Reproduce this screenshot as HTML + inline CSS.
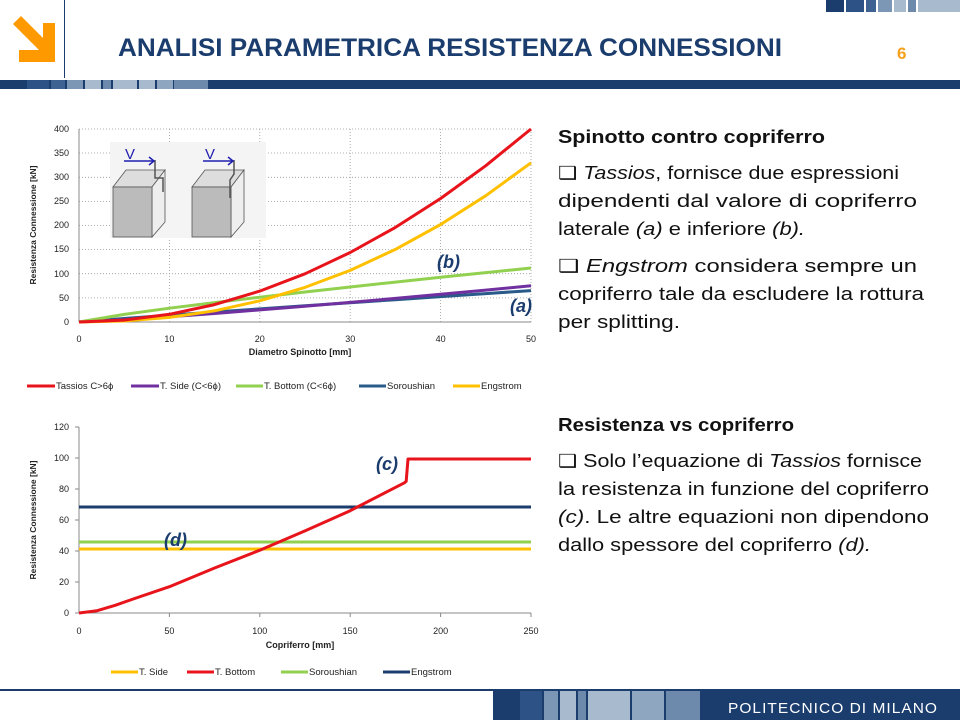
<!DOCTYPE html>
<html><head><meta charset="utf-8"><style>html,body{margin:0;padding:0;background:#fff}svg{display:block}</style></head><body>
<svg width="960" height="720" viewBox="0 0 960 720" xmlns="http://www.w3.org/2000/svg" font-family="Liberation Sans, sans-serif">
<!-- header -->
<rect x="826" y="0" width="18" height="12" fill="#1b3d6e"/><rect x="846" y="0" width="18" height="12" fill="#2d5286"/><rect x="866" y="0" width="10" height="12" fill="#3e6393"/><rect x="878" y="0" width="14" height="12" fill="#7c97b5"/><rect x="894" y="0" width="12" height="12" fill="#a8bacd"/><rect x="908" y="0" width="8" height="12" fill="#6d8aad"/><rect x="918" y="0" width="42" height="12" fill="#a8bacd"/>
<line x1="64.5" y1="0" x2="64.5" y2="78" stroke="#1b3d6e" stroke-width="1"/>
<polygon points="13,24 21,16 43,38 43,23 55,23 55,62 19,62 19,50 39,50" fill="#ff9900"/>
<text x="118" y="56" font-size="25" font-weight="bold" fill="#1b3d6e" textLength="664" lengthAdjust="spacingAndGlyphs">ANALISI PARAMETRICA RESISTENZA CONNESSIONI</text>
<text x="897" y="59" font-size="17" font-weight="bold" fill="#f5a11c">6</text>
<rect x="0" y="80" width="960" height="9" fill="#1b3d6e"/>
<rect x="27" y="80" width="22" height="9" fill="#2d5286"/><rect x="51" y="80" width="14" height="9" fill="#3e6393"/><rect x="67" y="80" width="16" height="9" fill="#7c97b5"/><rect x="85" y="80" width="16" height="9" fill="#a8bacd"/><rect x="103" y="80" width="8" height="9" fill="#6d8aad"/><rect x="113" y="80" width="24" height="9" fill="#a8bacd"/><rect x="139" y="80" width="16" height="9" fill="#a8bacd"/><rect x="157" y="80" width="16" height="9" fill="#8fa6c0"/><rect x="174" y="80" width="34" height="9" fill="#6d8aad"/>
<!-- footer -->
<line x1="0" y1="690" x2="960" y2="690" stroke="#1b3d6e" stroke-width="2"/>
<rect x="493" y="691" width="467" height="29" fill="#1b3d6e"/>
<rect x="520" y="691" width="22" height="29" fill="#2d5286"/><rect x="544" y="691" width="14" height="29" fill="#7c97b5"/><rect x="560" y="691" width="16" height="29" fill="#a8bacd"/><rect x="578" y="691" width="8" height="29" fill="#6d8aad"/><rect x="588" y="691" width="42" height="29" fill="#a8bacd"/><rect x="632" y="691" width="32" height="29" fill="#8fa6c0"/><rect x="666" y="691" width="34" height="29" fill="#6d8aad"/>
<text x="728" y="713" font-size="15" fill="#fff" textLength="210" lengthAdjust="spacingAndGlyphs" letter-spacing="1">POLITECNICO DI MILANO</text>

<!-- chart 1 -->
<g stroke="#999" stroke-width="0.8" stroke-dasharray="1,2">
<line x1="79" y1="129" x2="531" y2="129"/><line x1="79" y1="153" x2="531" y2="153"/><line x1="79" y1="177.3" x2="531" y2="177.3"/><line x1="79" y1="201.4" x2="531" y2="201.4"/><line x1="79" y1="225.5" x2="531" y2="225.5"/><line x1="79" y1="249.6" x2="531" y2="249.6"/><line x1="79" y1="273.7" x2="531" y2="273.7"/><line x1="79" y1="297.9" x2="531" y2="297.9"/>
<line x1="169.4" y1="129" x2="169.4" y2="322"/><line x1="259.8" y1="129" x2="259.8" y2="322"/><line x1="350.2" y1="129" x2="350.2" y2="322"/><line x1="440.6" y1="129" x2="440.6" y2="322"/><line x1="531" y1="129" x2="531" y2="322"/>
</g>
<line x1="79" y1="129" x2="79" y2="322" stroke="#888"/><line x1="79" y1="322" x2="531" y2="322" stroke="#888"/>
<g font-size="9" fill="#222" text-anchor="end">
<text x="69" y="132">400</text><text x="69" y="156">350</text><text x="69" y="180">300</text><text x="69" y="204">250</text><text x="69" y="228">200</text><text x="69" y="252">150</text><text x="69" y="277">100</text><text x="69" y="301">50</text><text x="69" y="325">0</text>
</g>
<g font-size="9" fill="#222" text-anchor="middle">
<text x="79" y="342">0</text><text x="169.4" y="342">10</text><text x="259.8" y="342">20</text><text x="350.2" y="342">30</text><text x="440.6" y="342">40</text><text x="531" y="342">50</text>
<text x="300" y="355" font-weight="bold">Diametro Spinotto [mm]</text>
<text transform="translate(36,225) rotate(-90)" font-weight="bold" font-size="8.5">Resistenza Connessione [kN]</text>
</g>
<!-- inset -->
<rect x="110" y="142" width="156" height="96" fill="#f4f4f4"/>
<g stroke="#555" stroke-width="0.8">
<polygon points="113,187 126,170 165,170 152,187" fill="#ddd"/><polygon points="152,187 165,170 165,222 152,237" fill="#eee"/><rect x="113" y="187" width="39" height="50" fill="#bbb"/>
<polygon points="192,187 205,170 244,170 231,187" fill="#ddd"/><polygon points="231,187 244,170 244,222 231,237" fill="#eee"/><rect x="192" y="187" width="39" height="50" fill="#bbb"/>
</g>
<path d="M155,160 v18 h8 v14 M234,160 v14 l-4,6 v18" stroke="#555" stroke-width="1.5" fill="none"/>
<text x="125" y="159" font-size="15" fill="#2020b0">V</text><path d="M124,161 h30 m-5,-4 l5,4 l-5,4" stroke="#2020b0" fill="none" stroke-width="1.5"/>
<text x="205" y="159" font-size="15" fill="#2020b0">V</text><path d="M203,161 h30 m-5,-4 l5,4 l-5,4" stroke="#2020b0" fill="none" stroke-width="1.5"/>
<g fill="none" stroke-width="3" stroke-linejoin="round">
<polyline stroke="#2a5a8a" points="79,322 124.2,318.5 169.4,315.2 214.6,312 259.8,308.9 305,305.7 350.2,302.7 395.4,299.7 440.6,296.6 485.8,293.6 531,290.6"/>
<polyline stroke="#7030a0" points="79,322 124.2,319.7 169.4,316.7 214.6,313.5 259.8,309.9 305,306.3 350.2,302.4 395.4,298.4 440.6,294.3 485.8,290.1 531,285.8"/>
<polyline stroke="#92d050" points="79,322 124.2,314.4 169.4,308.2 214.6,302.6 259.8,297.2 305,292 350.2,287 395.4,282.1 440.6,277.3 485.8,272.6 531,268"/>
<polyline stroke="#ffc000" points="79,322 124.2,321 169.4,317.4 214.6,310.8 259.8,300.8 305,287.4 350.2,270.4 395.4,249.4 440.6,224.5 485.8,195.7 531,162.8"/>
<polyline stroke="#e8141b" points="79,322 124.2,320.1 169.4,314.3 214.6,304.6 259.8,291.1 305,273.8 350.2,252.5 395.4,227.4 440.6,198.5 485.8,165.7 531,129"/>
</g>
<g font-size="18" font-weight="bold" font-style="italic" fill="#1b3d6e">
<text x="437" y="268">(b)</text><text x="510" y="312">(a)</text>
</g>
<!-- legend 1 -->
<g stroke-width="3">
<line x1="27" y1="386" x2="55" y2="386" stroke="#e8141b"/><line x1="131" y1="386" x2="159" y2="386" stroke="#7030a0"/><line x1="236" y1="386" x2="263" y2="386" stroke="#92d050"/><line x1="359" y1="386" x2="386" y2="386" stroke="#2a5a8a"/><line x1="453" y1="386" x2="480" y2="386" stroke="#ffc000"/>
</g>
<g font-size="9.5" fill="#222">
<text x="56" y="389">Tassios C&gt;6ϕ</text><text x="160" y="389">T. Side (C&lt;6ϕ)</text><text x="264" y="389">T. Bottom  (C&lt;6ϕ)</text><text x="387" y="389">Soroushian</text><text x="481" y="389">Engstrom</text>
</g>

<!-- chart 2 -->
<line x1="79" y1="427" x2="79" y2="613" stroke="#888"/><line x1="79" y1="613" x2="531" y2="613" stroke="#888"/>
<g stroke="#888"><line x1="75" y1="427" x2="79" y2="427"/><line x1="75" y1="458" x2="79" y2="458"/><line x1="75" y1="489" x2="79" y2="489"/><line x1="75" y1="520" x2="79" y2="520"/><line x1="75" y1="551" x2="79" y2="551"/><line x1="75" y1="582" x2="79" y2="582"/><line x1="75" y1="613" x2="79" y2="613"/>
<line x1="169.4" y1="613" x2="169.4" y2="617"/><line x1="259.8" y1="613" x2="259.8" y2="617"/><line x1="350.2" y1="613" x2="350.2" y2="617"/><line x1="440.6" y1="613" x2="440.6" y2="617"/><line x1="531" y1="613" x2="531" y2="617"/></g>
<g font-size="9" fill="#222" text-anchor="end">
<text x="69" y="430">120</text><text x="69" y="461">100</text><text x="69" y="492">80</text><text x="69" y="523">60</text><text x="69" y="554">40</text><text x="69" y="585">20</text><text x="69" y="616">0</text>
</g>
<g font-size="9" fill="#222" text-anchor="middle">
<text x="79" y="634">0</text><text x="169.4" y="634">50</text><text x="259.8" y="634">100</text><text x="350.2" y="634">150</text><text x="440.6" y="634">200</text><text x="531" y="634">250</text>
<text x="300" y="648" font-weight="bold">Copriferro [mm]</text>
<text transform="translate(36,520) rotate(-90)" font-weight="bold" font-size="8.5">Resistenza Connessione [kN]</text>
</g>
<g fill="none" stroke-width="3">
<line x1="79" y1="549" x2="531" y2="549" stroke="#ffc000"/>
<line x1="79" y1="542" x2="531" y2="542" stroke="#92d050"/>
<line x1="79" y1="507" x2="531" y2="507" stroke="#1b3d6e"/>
<polyline stroke="#e8141b" stroke-linejoin="round" points="79,613 97.1,610.7 115.2,605.3 133.2,599 169.4,586.7 214.6,568 259.8,550.2 305,530.9 350.2,510.7 404.4,482.8 406.2,481.3 408,459 531,459"/>
</g>
<g font-size="18" font-weight="bold" font-style="italic" fill="#1b3d6e">
<text x="376" y="470">(c)</text><text x="164" y="546">(d)</text>
</g>
<g stroke-width="3">
<line x1="111" y1="672" x2="138" y2="672" stroke="#ffc000"/><line x1="187" y1="672" x2="214" y2="672" stroke="#e8141b"/><line x1="281" y1="672" x2="308" y2="672" stroke="#92d050"/><line x1="383" y1="672" x2="410" y2="672" stroke="#1b3d6e"/>
</g>
<g font-size="9.5" fill="#222">
<text x="139" y="675">T. Side</text><text x="215" y="675">T. Bottom</text><text x="309" y="675">Soroushian</text><text x="411" y="675">Engstrom</text>
</g>

<!-- right text -->
<g font-size="18" fill="#111">
<text x="558" y="143" font-weight="bold" textLength="267" lengthAdjust="spacingAndGlyphs">Spinotto contro copriferro</text>
<text x="558" y="179" textLength="341" lengthAdjust="spacingAndGlyphs">❑ <tspan font-style="italic">Tassios</tspan>, fornisce due espressioni</text>
<text x="558" y="207" textLength="359" lengthAdjust="spacingAndGlyphs">dipendenti dal valore di copriferro</text>
<text x="558" y="235" textLength="247" lengthAdjust="spacingAndGlyphs">laterale <tspan font-style="italic">(a)</tspan> e inferiore <tspan font-style="italic">(b).</tspan></text>
<text x="558" y="272" textLength="359" lengthAdjust="spacingAndGlyphs">❑ <tspan font-style="italic">Engstrom</tspan>  considera sempre un</text>
<text x="558" y="300" textLength="366" lengthAdjust="spacingAndGlyphs">copriferro tale da escludere la rottura</text>
<text x="558" y="328" textLength="122" lengthAdjust="spacingAndGlyphs">per splitting.</text>
<text x="558" y="431" font-weight="bold" textLength="236" lengthAdjust="spacingAndGlyphs">Resistenza vs copriferro</text>
<text x="558" y="467" textLength="364" lengthAdjust="spacingAndGlyphs">❑ Solo l’equazione di <tspan font-style="italic">Tassios</tspan> fornisce</text>
<text x="558" y="495" textLength="371" lengthAdjust="spacingAndGlyphs">la resistenza in funzione del copriferro</text>
<text x="558" y="523" textLength="371" lengthAdjust="spacingAndGlyphs"><tspan font-style="italic">(c)</tspan>. Le altre equazioni  non dipendono</text>
<text x="558" y="551" textLength="313" lengthAdjust="spacingAndGlyphs">dallo spessore del copriferro <tspan font-style="italic">(d).</tspan></text>
</g>
</svg>
</body></html>
